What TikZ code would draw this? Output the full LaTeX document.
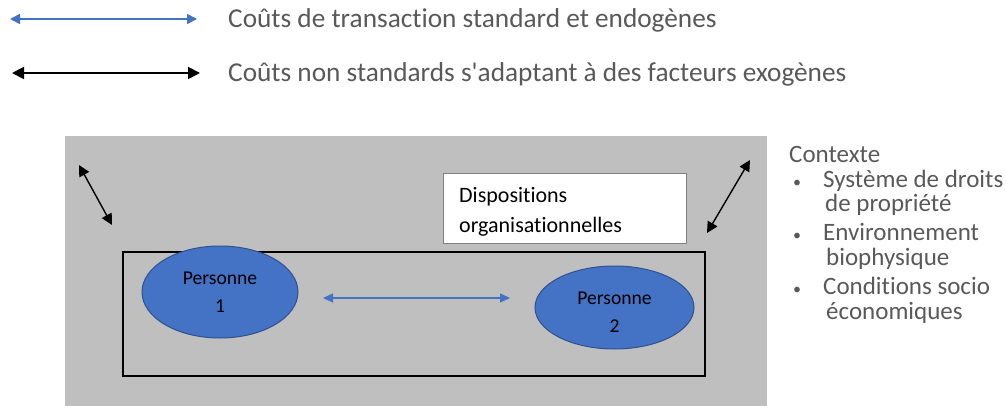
\documentclass[tikz,border=0pt]{standalone}
\usepackage{fontspec}
\setmainfont{Carlito}[Ligatures={TeXOff,NoCommon}]
\usetikzlibrary{arrows.meta,shapes.geometric}
\definecolor{txtgray}{HTML}{595959}
\definecolor{bggray}{HTML}{BFBFBF}
\definecolor{pblue}{HTML}{4472C4}
\definecolor{pblueedge}{HTML}{2F528F}
\definecolor{boxedge}{HTML}{7F7F7F}
\tikzset{
  bluearrow/.style={draw=pblue, line width=1.6pt,
    {Triangle[length=10pt,width=10pt]}-{Triangle[length=10pt,width=10pt]}},
  midarrow/.style={draw=pblue, line width=1.3pt,
    {Triangle[length=10pt,width=9pt]}-{Triangle[length=10pt,width=9pt]}},
  blackarrow/.style={draw=black, line width=1.8pt,
    {Triangle[length=12pt,width=12pt]}-{Triangle[length=12pt,width=12pt]}},
  diagarrow/.style={draw=black, line width=1.4pt,
    {Triangle[length=11pt,width=11pt]}-{Triangle[length=11pt,width=11pt]}},
  legendtext/.style={anchor=base west, inner sep=0pt, text=txtgray,
    font=\fontsize{27.3}{32}\selectfont},
  person/.style={ellipse, draw=pblueedge, fill=pblue, line width=1pt,
    inner sep=0pt, align=center, text=black,
    font=\fontsize{19.6}{28}\selectfont},
}
\begin{document}
\begin{tikzpicture}[x=1pt,y=-1pt]
\useasboundingbox (0,0) rectangle (1006,406);

% legend
\coordinate (la1) at (10,19);
\coordinate (lb1) at (197,19);
\draw[bluearrow] (la1) -- (lb1);
\node[legendtext] (leg1) at (228,28) {Coûts de transaction standard et endogènes};
\coordinate (la2) at (12,73);
\coordinate (lb2) at (200,73);
\draw[blackarrow] (la2) -- (lb2);
\node[legendtext] (leg2) at (228,82) {Coûts non standards s'adaptant à des facteurs exogènes};

% context area
\fill[bggray] (65,136) rectangle (767,406);

% organisational arrangements frame
\draw[line width=1.8pt] (123,252) rectangle (705,376);

% label box (base anchor sits on the last line)
\node[draw=boxedge, fill=white, line width=0.8pt, minimum width=243pt,
      minimum height=70pt, inner sep=0pt] (disp) at (564.5,208) {};
\node[anchor=base west, inner sep=0pt, align=left,
      font=\fontsize{22}{29}\selectfont] (disptext) at (459,232)
      {Dispositions\\organisationnelles};

% persons
\node[person, minimum width=156pt, minimum height=92pt] (p1) at (220,292)
      {Personne\\1};
\node[person, minimum width=159pt, minimum height=83pt] (p2) at (614.5,307.5)
      {\rule{0pt}{6pt}\\[-12pt]Personne\\2};

% exchange between persons
\coordinate (ma) at (323,298);
\coordinate (mb) at (510,298);
\draw[midarrow] (ma) -- (mb);

% exogenous influences
\coordinate (da1) at (79,165);
\coordinate (db1) at (112,225);
\draw[diagarrow] (da1) -- (db1);
\coordinate (da2) at (750,160);
\coordinate (db2) at (707,233);
\draw[diagarrow] (da2) -- (db2);

% context list (base anchor sits on the last line)
\node[anchor=base west, inner sep=0pt, align=left, text=txtgray,
      font=\fontsize{25}{24.6}\selectfont] (ctx) at (789,319)
  {Contexte\\
   \makebox[34pt][l]{\hspace*{4pt}\fontsize{16}{16}\selectfont•}Système de droits\\
   \hspace*{36pt}de propriété\\[4.4pt]
   \makebox[34pt][l]{\hspace*{4pt}\fontsize{16}{16}\selectfont•}Environnement\\
   \hspace*{37pt}biophysique\\[4.4pt]
   \makebox[34pt][l]{\hspace*{4pt}\fontsize{16}{16}\selectfont•}Conditions socio\\
   \hspace*{37pt}économiques};
\end{tikzpicture}
\end{document}
